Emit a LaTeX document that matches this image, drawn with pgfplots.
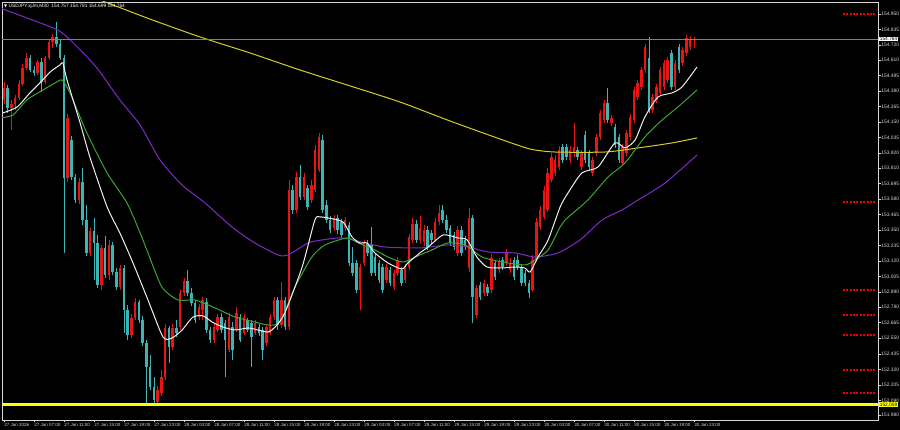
\documentclass[border=0pt]{standalone}
\usepackage{fontspec}
\setmainfont{Liberation Sans}
\newfontfamily\symfont{DejaVu Sans}
\usepackage{pgfplots}
\pgfplotsset{compat=1.18}
\usepackage{pgfplotstable}

\definecolor{upc}{RGB}{235,20,20}
\definecolor{dnc}{RGB}{60,180,180}
\definecolor{mawhite}{RGB}{240,240,240}
\definecolor{magreen}{RGB}{60,165,50}
\definecolor{mapurple}{RGB}{130,40,200}
\definecolor{mayellow}{RGB}{215,205,40}
\definecolor{lvl}{RGB}{255,255,0}
\definecolor{axgray}{RGB}{215,215,215}
\definecolor{dotred}{RGB}{235,0,0}

\pgfplotstableread{
i O H L C
0 154.313 154.446 154.283 154.402
1 154.402 154.424 154.217 154.254
2 154.254 154.313 154.091 154.283
3 154.283 154.350 154.239 154.328
4 154.328 154.461 154.313 154.431
5 154.431 154.579 154.417 154.550
6 154.550 154.661 154.535 154.624
7 154.624 154.646 154.520 154.535
8 154.535 154.565 154.491 154.513
9 154.513 154.609 154.498 154.594
10 154.594 154.624 154.372 154.446
11 154.446 154.639 154.431 154.624
12 154.624 154.764 154.609 154.742
13 154.742 154.801 154.698 154.779
14 154.779 154.890 154.705 154.727
15 154.727 154.757 154.609 154.624
16 154.624 154.646 153.181 153.736
17 153.736 154.209 153.706 154.180
18 154.017 154.047 153.721 153.743
19 153.743 153.765 153.551 153.573
20 153.573 153.736 153.543 153.706
21 153.706 153.810 153.388 153.425
22 153.425 153.536 153.159 153.181
23 153.181 153.366 153.159 153.344
24 153.344 153.440 152.981 153.255
25 153.255 153.314 152.922 152.944
26 152.944 153.240 152.907 153.218
27 153.218 153.307 152.996 153.018
28 153.018 153.277 152.981 153.240
29 153.240 153.262 153.018 153.040
30 153.040 153.070 152.907 152.929
31 152.929 153.092 152.907 153.070
32 153.070 153.092 152.589 152.759
33 152.759 152.796 152.537 152.574
34 152.574 152.729 152.552 152.700
35 152.700 152.848 152.685 152.818
36 152.818 152.833 152.663 152.685
37 152.685 152.715 152.493 152.515
38 152.515 152.537 152.071 152.337
39 152.337 152.426 152.167 152.189
40 152.189 152.263 152.059 152.093
41 152.078 152.197 152.062 152.167
42 152.145 152.315 152.123 152.263
43 152.263 152.655 152.241 152.626
44 152.626 152.641 152.367 152.485
45 152.485 152.655 152.463 152.626
46 152.626 152.685 152.559 152.589
47 152.633 152.907 152.611 152.885
48 152.885 152.996 152.863 152.974
49 152.974 153.055 152.863 152.885
50 152.885 152.922 152.789 152.811
51 152.811 152.833 152.663 152.685
52 152.707 152.803 152.685 152.781
53 152.759 152.855 152.685 152.833
54 152.818 152.848 152.589 152.611
55 152.611 152.633 152.515 152.537
56 152.537 152.655 152.515 152.633
57 152.611 152.729 152.596 152.707
58 152.707 152.737 152.589 152.611
59 152.663 152.685 152.263 152.537
60 152.463 152.737 152.448 152.707
61 152.633 152.670 152.389 152.463
62 152.611 152.781 152.596 152.737
63 152.707 152.729 152.522 152.537
64 152.589 152.729 152.574 152.707
65 152.685 152.700 152.596 152.611
66 152.663 152.685 152.337 152.559
67 152.589 152.685 152.574 152.663
68 152.633 152.655 152.567 152.589
69 152.611 152.633 152.389 152.463
70 152.515 152.655 152.493 152.633
71 152.589 152.729 152.574 152.707
72 152.707 152.855 152.685 152.833
73 152.833 152.855 152.611 152.648
74 152.648 152.966 152.626 152.833
75 152.833 152.855 152.611 152.633
76 152.633 153.721 152.611 153.647
77 153.647 153.684 153.469 153.499
78 153.499 153.780 153.477 153.743
79 153.743 153.832 153.573 153.595
80 153.595 153.773 153.573 153.743
81 153.662 153.684 153.499 153.521
82 153.573 153.721 153.551 153.684
83 153.647 153.980 153.632 153.943
84 153.795 154.069 153.780 154.039
85 154.017 154.054 153.477 153.499
86 153.536 153.573 153.403 153.425
87 153.425 153.455 153.329 153.351
88 153.366 153.462 153.344 153.440
89 153.440 153.462 153.321 153.351
90 153.410 153.432 153.292 153.314
91 153.366 153.447 153.344 153.425
92 153.388 153.410 153.085 153.107
93 153.107 153.225 153.011 153.033
94 153.107 153.129 152.885 152.907
95 152.907 153.099 152.759 153.077
96 153.107 153.277 153.085 153.255
97 153.255 153.277 153.159 153.181
98 153.240 153.373 153.011 153.033
99 153.151 153.173 153.011 153.033
100 153.107 153.129 152.959 152.981
101 153.077 153.099 152.885 152.907
102 152.981 153.099 152.959 153.077
103 153.055 153.077 152.937 152.959
104 152.929 153.055 152.907 153.033
105 153.033 153.151 153.011 153.129
106 153.055 153.077 152.937 152.959
107 152.981 153.099 152.959 153.077
108 153.077 153.321 153.055 153.299
109 153.277 153.440 153.255 153.395
110 153.395 153.425 153.255 153.277
111 153.277 153.455 153.247 153.366
112 153.262 153.388 153.233 153.351
113 153.351 153.381 153.203 153.225
114 153.329 153.351 153.247 153.277
115 153.277 153.440 153.262 153.410
116 153.410 153.536 153.388 153.477
117 153.499 153.536 153.403 153.425
118 153.425 153.462 153.329 153.351
119 153.366 153.388 153.233 153.255
120 153.314 153.336 153.203 153.225
121 153.181 153.381 153.159 153.351
122 153.351 153.381 153.159 153.181
123 153.277 153.307 153.203 153.225
124 153.070 153.514 153.040 153.440
125 153.440 153.462 152.663 152.855
126 152.722 152.944 152.700 152.922
127 152.944 152.966 152.833 152.855
128 152.885 152.981 152.863 152.959
129 152.929 152.951 152.863 152.885
130 152.907 153.173 152.885 153.144
131 153.107 153.129 152.981 153.003
132 153.055 153.144 153.033 153.114
133 153.129 153.151 153.055 153.077
134 153.107 153.210 153.085 153.181
135 153.055 153.144 153.033 153.107
136 153.129 153.151 152.981 153.003
137 153.129 153.166 153.055 153.077
138 153.077 153.099 152.937 152.959
139 153.033 153.055 152.937 152.959
140 152.959 152.981 152.848 152.885
141 152.907 153.166 152.892 153.129
142 153.129 153.440 153.114 153.410
143 153.373 153.529 153.351 153.499
144 153.447 153.677 153.432 153.647
145 153.499 153.810 153.484 153.773
146 153.721 153.921 153.706 153.891
147 153.773 153.906 153.751 153.869
148 153.817 153.973 153.795 153.943
149 153.965 153.987 153.847 153.869
150 153.965 153.987 153.869 153.891
151 153.869 153.973 153.847 153.943
152 153.921 154.143 153.891 153.965
153 153.943 153.965 153.869 153.891
154 153.817 153.943 153.795 153.921
155 154.054 154.084 153.847 153.869
156 153.921 153.943 153.795 153.817
157 153.773 153.891 153.751 153.869
158 153.921 154.061 153.899 154.039
159 154.039 154.239 154.017 154.217
160 154.165 154.313 154.143 154.291
161 154.291 154.402 154.143 154.165
162 154.143 154.202 154.121 154.180
163 154.113 154.135 153.958 153.980
164 154.039 154.061 153.847 153.869
165 153.847 153.987 153.825 153.965
166 153.921 154.091 153.899 154.069
167 154.039 154.209 154.017 154.187
168 154.165 154.409 154.143 154.387
169 154.335 154.461 154.313 154.439
170 154.409 154.557 154.387 154.535
171 154.535 154.727 154.513 154.705
172 154.624 154.779 154.217 154.239
173 154.239 154.357 154.217 154.335
174 154.313 154.431 154.291 154.409
175 154.365 154.557 154.343 154.535
176 154.409 154.609 154.387 154.587
177 154.461 154.631 154.439 154.609
178 154.661 154.683 154.387 154.409
179 154.409 154.609 154.387 154.587
180 154.705 154.727 154.513 154.535
181 154.587 154.705 154.565 154.683
182 154.661 154.794 154.639 154.772
183 154.705 154.790 154.683 154.757
184 154.757 154.781 154.699 154.764
}\candles

\begin{document}
\begin{tikzpicture}[x=1pt,y=1pt]
\fill[black] (0,0) rectangle (900,430);
\begin{axis}[
  at={(2pt,10pt)}, anchor=south west,
  scale only axis, width=876pt, height=418pt,
  xmin=-0.533, xmax=233.07, ymin=151.945, ymax=155.038,
  axis line style={axgray, line width=0.6pt},
  tick align=outside, major tick length=2.5pt,
  tick style={axgray, line width=0.5pt},
  xtick pos=left, ytick pos=right, yticklabel pos=right,
  xtick={0,8,...,184},
  xticklabels={27 Jan 2026, 27 Jan 07:00, 27 Jan 11:00, 27 Jan 15:00, 27 Jan 19:00, 27 Jan 23:00, 28 Jan 03:00, 28 Jan 07:00, 28 Jan 11:00, 28 Jan 15:00, 28 Jan 19:00, 28 Jan 23:00, 29 Jan 03:00, 29 Jan 07:00, 29 Jan 11:00, 29 Jan 15:00, 29 Jan 19:00, 29 Jan 23:00, 30 Jan 03:00, 30 Jan 07:00, 30 Jan 11:00, 30 Jan 15:00, 30 Jan 19:00, 30 Jan 23:00},
  xticklabel style={anchor=north west, font=\fontsize{4.5}{5}\selectfont, text=axgray, inner sep=0.6pt, xshift=-0.5pt},
  ytick={151.98,152.09,152.205,152.32,152.435,152.55,152.665,152.78,152.89,153.005,153.12,153.235,153.35,153.465,153.58,153.695,153.81,153.92,154.035,154.15,154.265,154.38,154.495,154.61,154.72,154.835,154.95},
  yticklabels={151.980,152.090,152.205,152.320,152.435,152.550,152.665,152.780,152.890,153.005,153.120,153.235,153.350,153.465,153.580,153.695,153.810,153.920,154.035,154.150,154.265,154.380,154.495,154.610,154.720,154.835,154.950},
  yticklabel style={anchor=west, font=\fontsize{4.9}{5}\selectfont, text=axgray, inner sep=0.6pt},
]
% down candles (teal)
\addplot[dnc, line width=0.8pt, restrict expr to domain={\thisrow{C}-\thisrow{O}}{-10:0},
  quiver={u=0, v=\thisrow{H}-\thisrow{L}}] table[x=i, y=L] {\candles};
\addplot[dnc, line width=2.5pt, restrict expr to domain={\thisrow{C}-\thisrow{O}}{-10:0},
  quiver={u=0, v=\thisrow{C}-\thisrow{O}}] table[x=i, y=O] {\candles};
% up candles (red)
\addplot[upc, line width=0.8pt, restrict expr to domain={\thisrow{C}-\thisrow{O}}{0.0001:10},
  quiver={u=0, v=\thisrow{H}-\thisrow{L}}] table[x=i, y=L] {\candles};
\addplot[upc, line width=2.5pt, restrict expr to domain={\thisrow{C}-\thisrow{O}}{0.0001:10},
  quiver={u=0, v=\thisrow{C}-\thisrow{O}}] table[x=i, y=O] {\candles};

% moving averages
\addplot[mayellow, line width=1pt, smooth, tension=0.4] coordinates {
(22.9,155.083) (25.6,155.053) (38.9,154.912) (52.3,154.779) (65.6,154.661) (78.9,154.535)
(92.3,154.417) (105.6,154.298) (118.9,154.158) (132.3,154.024) (140.3,153.950) (146.9,153.928)
(160.3,153.928) (169.1,153.958) (178.1,153.995) (184.8,154.032)};
\addplot[mapurple, line width=1pt, smooth, tension=0.4] coordinates {
(-1.1,154.994) (13.1,154.846) (16.8,154.779) (22.9,154.609) (25.6,154.520) (30.9,154.313)
(36.3,154.128) (41.6,153.869) (47.5,153.684) (53.6,153.551) (60.8,153.373) (66.9,153.255)
(73.1,153.166) (75.7,153.166) (81.1,153.255) (84.8,153.277) (90.1,153.292) (96.3,153.255)
(101.6,153.225) (110.9,153.218) (118.4,153.240) (123.7,153.225) (129.1,153.188) (136.3,153.181)
(141.6,153.151) (147.7,153.181) (153.6,153.277) (159.5,153.425) (164.8,153.499) (169.1,153.573)
(176.3,153.699) (184.8,153.906)};
\addplot[magreen, line width=1pt, smooth, tension=0.4] coordinates {
(-1.1,154.180) (2.4,154.202) (6.1,154.313) (10.4,154.387) (14.1,154.446) (15.5,154.461)
(17.6,154.365) (22.1,154.069) (27.5,153.773) (32.8,153.551) (36.3,153.329) (38.4,153.181)
(42.1,152.929) (46.4,152.833) (50.9,152.833) (56.3,152.774) (61.6,152.707) (66.9,152.670)
(70.4,152.648) (73.6,152.670) (77.6,152.929) (82.1,153.151) (85.6,153.240) (91.5,153.292)
(94.4,153.255) (98.9,153.203) (102.4,153.151) (106.4,153.114) (110.9,153.166) (114.1,153.203)
(118.4,153.255) (122.9,153.240) (127.5,153.151) (132.8,153.114) (138.9,153.092) (141.6,153.129)
(145.1,153.203) (148.3,153.373) (149.6,153.425) (155.7,153.573) (161.1,153.743) (165.6,153.847)
(170.9,154.039) (175.5,154.165) (179.7,154.261) (184.8,154.387)};
\addplot[mawhite, line width=1pt, smooth, tension=0.4] coordinates {
(-0.3,154.217) (3.5,154.261) (6.9,154.365) (9.6,154.439) (12.3,154.520) (14.9,154.572)
(15.7,154.587) (16.8,154.461) (20.3,154.143) (22.9,153.891) (27.5,153.521) (30.9,153.329)
(34.4,153.107) (38.4,152.833) (42.4,152.559) (44.8,152.552) (47.5,152.611) (50.4,152.707)
(53.1,152.715) (55.5,152.670) (58.4,152.633) (61.6,152.611) (65.1,152.626) (67.7,152.611)
(70.4,152.596) (72.3,152.633) (74.9,152.737) (79.5,153.077) (82.9,153.425) (84.3,153.447)
(86.4,153.440) (90.4,153.410) (92.8,153.299) (94.9,153.255) (96.8,153.255) (98.9,153.181)
(102.4,153.107) (106.1,153.062) (107.7,153.107) (110.9,153.181) (113.1,153.225) (117.1,153.314)
(121.1,153.292) (123.5,153.277) (126.1,153.151) (128.8,153.077) (132.8,153.070) (136.3,153.077)
(138.9,153.070) (140.3,153.040) (142.4,153.151) (145.1,153.277) (148.3,153.521) (150.4,153.625)
(154.1,153.773) (158.4,153.817) (162.9,153.995) (165.6,153.958) (168.3,154.017) (170.9,154.187)
(174.4,154.335) (178.1,154.365) (180.8,154.409) (184.8,154.557)};

% bid line and level line
\addplot[gray, line width=0.6pt] coordinates {(-0.533,154.764) (233.07,154.764)};
\addplot[lvl, line width=2.6pt] coordinates {(-0.533,152.059) (233.07,152.059)};

% red dotted levels at the right
\addplot[dotred, line width=1.4pt, dash pattern=on 2pt off 1.4pt] coordinates {(223.7,154.950) (232.5,154.950)};
\addplot[dotred, line width=1.4pt, dash pattern=on 2pt off 1.4pt] coordinates {(223.7,153.558) (232.5,153.558)};
\addplot[dotred, line width=1.4pt, dash pattern=on 2pt off 1.4pt] coordinates {(223.7,152.907) (232.5,152.907)};
\addplot[dotred, line width=1.4pt, dash pattern=on 2pt off 1.4pt] coordinates {(223.7,152.722) (232.5,152.722)};
\addplot[dotred, line width=1.4pt, dash pattern=on 2pt off 1.4pt] coordinates {(223.7,152.574) (232.5,152.574)};
\addplot[dotred, line width=1.4pt, dash pattern=on 2pt off 1.4pt] coordinates {(223.7,152.315) (232.5,152.315)};
\addplot[dotred, line width=1.4pt, dash pattern=on 2pt off 1.4pt] coordinates {(223.7,152.145) (232.5,152.145)};

\coordinate (bidR) at (axis cs:233.07,154.764);
\coordinate (lvlR) at (axis cs:233.07,152.059);
\end{axis}
\node[anchor=west, fill=white, text=black, inner sep=0.7pt, font=\fontsize{4.8}{5}\selectfont] at ([xshift=1pt]bidR) {154.764};
\node[anchor=west, fill=lvl, text=black, inner sep=0.7pt, font=\fontsize{4.8}{5}\selectfont] at ([xshift=1pt]lvlR) {152.059};
\node[anchor=west, text=white, inner sep=0pt, font=\fontsize{4.8}{5}\selectfont] at (4,424) {{\symfont\fontsize{4}{5}\selectfont ▼}\ USDJPY.xjJm,M30\ \ 154.757 154.781 154.699 154.764};
\pgfresetboundingbox
\path (0,0) rectangle (900,430);
\end{tikzpicture}
\end{document}
